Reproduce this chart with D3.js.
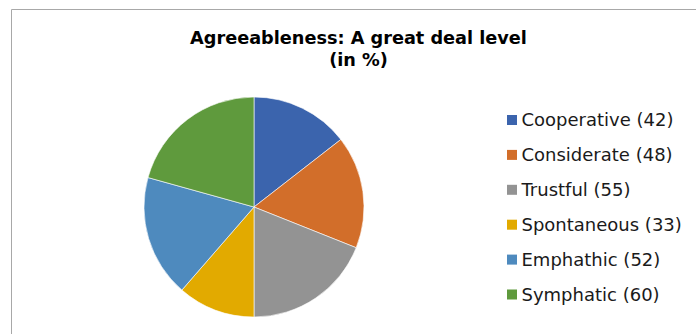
<!DOCTYPE html>
<html>
<head>
<meta charset="utf-8">
<script src="https://cdn.jsdelivr.net/npm/d3@7/dist/d3.min.js"></script>
<style>
  html, body { margin: 0; padding: 0; background: #fff; }
  svg { display: block; }
</style>
</head>
<body>
<svg id="chart" width="696" height="334"></svg>
<script>
// Share of respondents reporting "a great deal" for each agreeableness trait
const traits = ["Cooperative", "Considerate", "Trustful", "Spontaneous", "Emphathic", "Symphatic"];
const values = [42, 48, 55, 33, 52, 60];
const colors = ["#3b64ad", "#d26e2a", "#939393", "#e2aa00", "#4e8abe", "#5f9a3d"];
const titleLines = ["Agreeableness: A great deal level", "(in %)"];

const svg = d3.select("#chart");
const W = 696, H = 334;

// chart frame (top and left edges visible)
svg.append("path")
  .attr("d", `M11.5,${H} L11.5,9.5 L${W},9.5`)
  .attr("fill", "none")
  .attr("stroke", "#a8a8a8")
  .attr("stroke-width", 1);

// title
const title = svg.append("text")
  .attr("text-anchor", "middle")
  .attr("font-family", "DejaVu Sans, Verdana, sans-serif")
  .attr("font-weight", "bold")
  .attr("font-size", "17.7px")
  .attr("fill", "#000");
title.selectAll("tspan")
  .data(titleLines)
  .join("tspan")
  .attr("x", 358.5)
  .attr("y", (d, i) => 44 + i * 22)
  .text(d => d);

// pie
const cx = 254, cy = 207, radius = 110;
const color = d3.scaleOrdinal().domain(traits).range(colors);
const pie = d3.pie().sort(null).value(d => d.value);
const arc = d3.arc().innerRadius(0).outerRadius(radius);
const data = traits.map((t, i) => ({ name: t, value: values[i] }));

svg.append("g")
  .attr("transform", `translate(${cx},${cy})`)
  .selectAll("path")
  .data(pie(data))
  .join("path")
  .attr("d", arc)
  .attr("fill", d => color(d.data.name))
  .attr("stroke", "#ffffff")
  .attr("stroke-width", 0.6);

// legend
const legendY = d3.scalePoint().domain(traits).range([120, 294.5]);
const legend = svg.append("g")
  .selectAll("g")
  .data(data)
  .join("g")
  .attr("transform", d => `translate(507,${legendY(d.name)})`);

legend.append("rect")
  .attr("x", 0)
  .attr("y", -5)
  .attr("width", 10)
  .attr("height", 10)
  .attr("fill", d => color(d.name));

legend.append("text")
  .attr("x", 14.5)
  .attr("y", 6.3)
  .attr("font-family", "DejaVu Sans, Verdana, sans-serif")
  .attr("font-size", "18px")
  .attr("fill", "#1a1a1a")
  .text(d => `${d.name} (${d.value})`);
</script>
</body>
</html>
